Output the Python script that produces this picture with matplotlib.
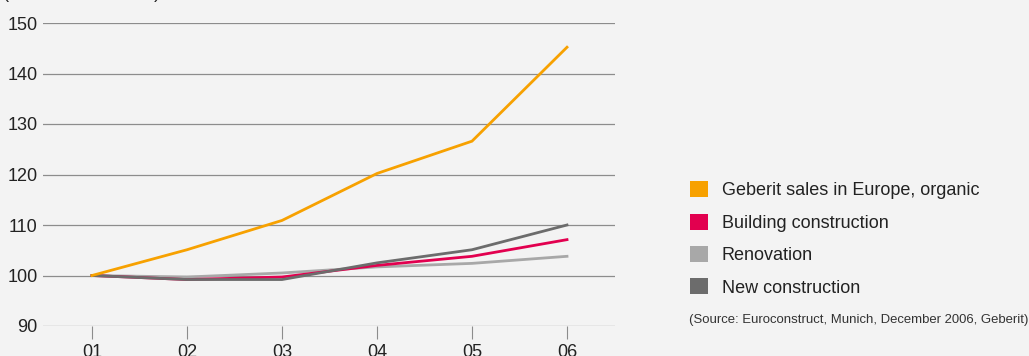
import matplotlib.pyplot as plt
from matplotlib.patches import Patch

plt.rcParams['font.family'] = ['Liberation Sans', 'DejaVu Sans']

years = ['01', '02', '03', '04', '05', '06']
geberit = [100, 105.1, 110.9, 120.2, 126.6, 145.2]
building = [100, 99.2, 99.7, 102.0, 103.8, 107.1]
renovation = [100, 99.7, 100.5, 101.7, 102.4, 103.8]
new_constr = [100, 99.2, 99.2, 102.5, 105.1, 110.0]
labels = ['Geberit sales in Europe, organic', 'Building construction',
          'Renovation', 'New construction']
colors = ['#f7a100', '#e2004f', '#a8a8a8', '#6c6c6c']

bg = '#f3f3f3'
fig = plt.figure(figsize=(10.29, 3.56), dpi=100, facecolor=bg)
ax = fig.add_axes([43 / 1029, 1 - 326 / 356, 572 / 1029, 303 / 356])
ax.set_facecolor(bg)

x = list(range(1, len(years) + 1))
series = [geberit, building, renovation, new_constr]
order = [2, 1, 3, 0]
for i in order:
    ax.plot(x, series[i], color=colors[i], lw=2.0, solid_joinstyle='miter', zorder=3)

ax.set_xlim(1 - 49 / 95, 6 + 48 / 95)
ax.set_ylim(90, 150)
ax.set_yticks(range(90, 151, 10))
ax.yaxis.grid(True, color='#8c8c8c', lw=0.9)
ax.set_axisbelow(True)
for s in ax.spines.values():
    s.set_visible(False)
ax.tick_params(axis='y', length=0, labelsize=13, pad=4, labelcolor='#222222')
ax.set_xticks(x)
ax.set_xticklabels(years)
ax.tick_params(axis='x', length=9, width=0.8, color='#8c8c8c', labelsize=13,
               pad=4, labelcolor='#222222')

fig.text(3 / 1029, 1 + 6 / 356, '(Index: 2001 = 100)', fontsize=13,
         color='#222222', va='center', ha='left')

handles = [Patch(facecolor=c, edgecolor='none') for c in colors]
leg = fig.legend(handles, labels, loc='upper left',
                 bbox_to_anchor=(683 / 1029, 1 - 174 / 356),
                 frameon=False, fontsize=13, handlelength=1.0, handleheight=1.0,
                 handletextpad=0.75, labelspacing=0.78, borderaxespad=0)
for t in leg.get_texts():
    t.set_color('#222222')

fig.text(689 / 1029, 1 - 320 / 356,
         '(Source: Euroconstruct, Munich, December 2006, Geberit)',
         fontsize=9.45, color='#333333', va='center', ha='left')

fig.savefig('out.png', dpi=100, facecolor=bg)
